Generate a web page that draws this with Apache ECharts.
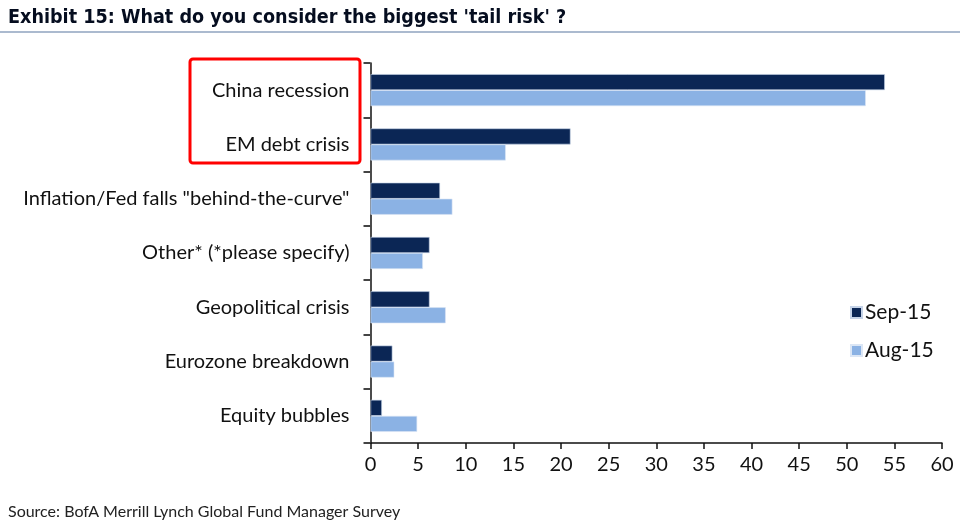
<!DOCTYPE html>
<html><head><meta charset="utf-8">
<script src="https://cdn.jsdelivr.net/npm/echarts@6/dist/echarts.min.js"></script>
<style>html,body{margin:0;padding:0;background:#fff}#c{width:960px;height:528px}</style>
</head><body><div id="c"></div>
<script>
const categories = ["China recession","EM debt crisis","Inflation/Fed falls \"behind-the-curve\"","Other* (*please specify)","Geopolitical crisis","Eurozone breakdown","Equity bubbles"];
const sep15 = [54, 21, 7.3, 6.2, 6.2, 2.3, 1.2];
const aug15 = [52, 14.2, 8.6, 5.5, 7.9, 2.5, 4.9];
const xTicks = {min: 0, max: 60, interval: 5};
const titleText = "Exhibit 15: What do you consider the biggest 'tail risk' ?";
const sourceText = "Source: BofA Merrill Lynch Global Fund Manager Survey";

const chart = echarts.init(document.getElementById('c'), null, {renderer: 'canvas'});
const labelFont = 'Lato';
chart.setOption({
  animation: false,
  title: {text: titleText, left: 3, top: 3,
    textStyle: {fontFamily: 'DejaVu Sans Condensed', fontWeight: 'bold', fontSize: 19.6, color: '#050d1f'}},
  graphic: [
    {type: 'line', shape: {x1: 0, y1: 32, x2: 960, y2: 32}, style: {stroke: '#8fa3bf', lineWidth: 1.5}},
    {type: 'rect', shape: {x: 190, y: 59, width: 170, height: 104, r: 3}, style: {fill: 'none', stroke: '#ff0000', lineWidth: 3}, z: 10},
    {type: 'text', left: 8, top: 504, style: {text: sourceText, font: '16px ' + labelFont, fill: '#222'}}
  ],
  legend: {orient: 'vertical', left: 845, top: 297, itemGap: 17, itemWidth: 11, itemHeight: 11, icon: 'rect',
    data: ['Sep-15', 'Aug-15'], textStyle: {fontFamily: labelFont, fontSize: 21, color: '#111', padding: [0,0,0,-2]}},
  grid: {left: 370.5, right: 18, top: 63, bottom: 85, containLabel: false},
  xAxis: {type: 'value', min: xTicks.min, max: xTicks.max, interval: xTicks.interval,
    splitLine: {show: false},
    axisLine: {show: true, lineStyle: {color: '#111', width: 1.5}},
    axisTick: {show: true, length: 6, lineStyle: {color: '#111', width: 1.5}},
    axisLabel: {fontFamily: labelFont, fontSize: 20, color: '#111', margin: 12}},
  yAxis: {type: 'category', inverse: true, data: categories,
    axisLine: {show: true, lineStyle: {color: '#111', width: 1.5}},
    axisTick: {show: true, length: 7, lineStyle: {color: '#444', width: 2}},
    axisLabel: {fontFamily: labelFont, fontSize: 20, color: '#111', margin: 21}},
  series: [
    {name: 'Sep-15', type: 'bar', data: sep15, barWidth: 16, barGap: '0%',
      itemStyle: {color: '#0b2655', borderColor: '#c5d3e8', borderWidth: 0.6}},
    {name: 'Aug-15', type: 'bar', data: aug15, barWidth: 16, barGap: '0%',
      itemStyle: {color: '#8bb2e4', borderColor: '#dbe6f5', borderWidth: 0.6}}
  ]
});
</script></body></html>
